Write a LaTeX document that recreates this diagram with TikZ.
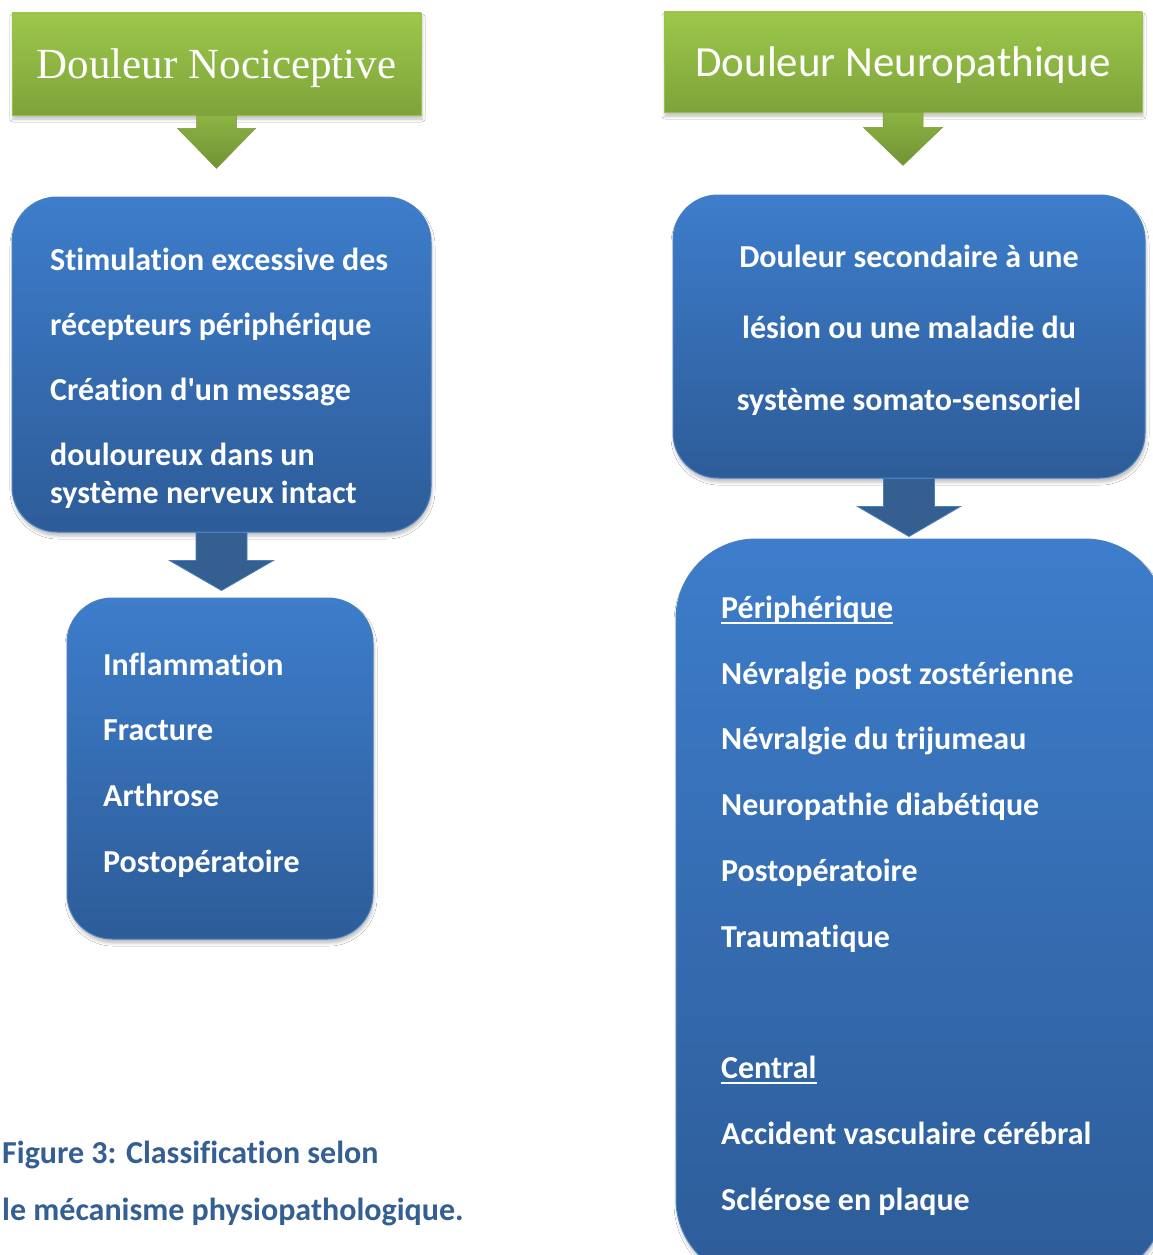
\documentclass[tikz,border=0pt]{standalone}
\usepackage{fontspec}
\setmainfont{Carlito}[Ligatures={NoCommon,TeXOff}]
\newfontfamily\timesf{Liberation Serif}
\usetikzlibrary{shadows.blur,calc}
\definecolor{gtop}{HTML}{9CC84B}
\definecolor{gbot}{HTML}{7EA33A}
\definecolor{gedge}{HTML}{98C04C}
\definecolor{btop}{HTML}{3D7DCB}
\definecolor{bbot}{HTML}{2D5C98}
\definecolor{bedge}{HTML}{4A7FC0}
\definecolor{barrow}{HTML}{365F91}
\definecolor{capcol}{HTML}{345F93}
\newcommand\ulin[1]{\setbox0\hbox{#1}\rlap{\rule[-6pt]{\wd0}{2pt}}\box0}
\newcommand\blockarrow[6]{%
  \path[#6] ($(#1.south)+(-#2,0)$) -- ($(#1.south)+(-#2,#3)$) -- ($(#1.south)+(-#4,#3)$)
    -- ($(#1.south)+(0,#5)$) -- ($(#1.south)+(#4,#3)$) -- ($(#1.south)+(#2,#3)$)
    -- ($(#1.south)+(#2,0)$) -- cycle;}
\begin{document}
\begin{tikzpicture}[x=1pt,y=-1pt,
  greenbox/.style={rectangle, draw=gedge, line width=0.8pt, top color=gtop, bottom color=gbot,
    inner sep=0pt, blur shadow={shadow xshift=1pt, shadow yshift=-4pt, shadow blur radius=3pt, shadow opacity=25}},
  bluebox/.style={rectangle, rounded corners=45pt, draw=bedge, line width=1pt, top color=btop, bottom color=bbot,
    inner sep=0pt, blur shadow={shadow xshift=1pt, shadow yshift=-4pt, shadow blur radius=3pt, shadow opacity=25}},
  greenarrow/.style={top color=gtop!90!black, bottom color=gbot!90!black, draw=gedge!80!black, line width=0.5pt},
  bluearrow/.style={fill=barrow, draw=bedge, line width=0.8pt},
  boxtext/.style={font=\bfseries\fontsize{32}{38}\selectfont, text=white, inner sep=0pt, anchor=base west},
  boxtextc/.style={font=\bfseries\fontsize{32}{38}\selectfont, text=white, inner sep=0pt, anchor=base},
  captext/.style={font=\bfseries\fontsize{32}{38}\selectfont, text=capcol, inner sep=0pt, anchor=base west}]
\clip (0,0) rectangle (1153,1255);
\fill[white] (0,0) rectangle (1153,1255);

% green title boxes
\node[greenbox, minimum width=409pt, minimum height=102pt] (g1) at (216.5,64) {};
\node[greenbox, minimum width=478pt, minimum height=100pt] (g2) at (903,62) {};
\node[font=\timesf\fontsize{43}{50}\selectfont, text=white, inner sep=0pt, anchor=base] (t1) at (216.5,78) {Douleur Nociceptive};
\node[font=\fontsize{43}{50}\selectfont, text=white, inner sep=0pt, anchor=base] (t2) at (903,77) {Douleur Neuropathique};

% blue boxes
\node[bluebox, minimum width=419pt, minimum height=335pt] (b1) at (221.5,364.5) {};
\node[bluebox, minimum width=306pt, minimum height=341pt] (b2) at (220,768.5) {};
\node[bluebox, minimum width=472pt, minimum height=283pt] (b3) at (909,336.5) {};
\node[bluebox, rounded corners=80pt, minimum width=489pt, minimum height=740pt] (b4) at (920.5,909) {};

% block arrows
\blockarrow{g1}{20}{13}{39}{53}{greenarrow}
\blockarrow{g2}{20}{15}{39.5}{53}{greenarrow}
\blockarrow{b1}{25.5}{28}{52}{58}{bluearrow}
\blockarrow{b3}{25.5}{28}{51.5}{58}{bluearrow}

% text of box b1
\node[boxtext] (l11) at (50,270) {Stimulation excessive des};
\node[boxtext] (l12) at (50,335) {récepteurs périphérique};
\node[boxtext] (l13) at (50,400) {Création d'un message};
\node[boxtext] (l14) at (50,465) {douloureux dans un};
\node[boxtext] (l15) at (50,503) {système nerveux intact};

% text of box b2
\node[boxtext] (l21) at (103,675) {Inflammation};
\node[boxtext] (l22) at (103,740) {Fracture};
\node[boxtext] (l23) at (103,806) {Arthrose};
\node[boxtext] (l24) at (103,872) {Postopératoire};

% text of box b3
\node[boxtextc] (l31) at (909,267) {Douleur secondaire à une};
\node[boxtextc] (l32) at (909,338) {lésion ou une maladie du};
\node[boxtextc] (l33) at (909,410) {système somato-sensoriel};

% text of box b4
\node[boxtext] (l41) at (721,618) {\ulin{Périphérique}};
\node[boxtext] (l42) at (721,684) {Névralgie post zostérienne};
\node[boxtext] (l43) at (721,749) {Névralgie du trijumeau};
\node[boxtext] (l44) at (721,815) {Neuropathie diabétique};
\node[boxtext] (l45) at (721,881) {Postopératoire};
\node[boxtext] (l46) at (721,947) {Traumatique};
\node[boxtext] (l47) at (721,1078) {\ulin{Central}};
\node[boxtext] (l48) at (721,1144) {Accident vasculaire cérébral};
\node[boxtext] (l49) at (721,1210) {Sclérose en plaque};

% caption
\node[captext] (c1) at (2,1163) {Figure 3: Classification selon};
\node[captext] (c2) at (2,1220) {le mécanisme physiopathologique.};
\end{tikzpicture}
\end{document}
